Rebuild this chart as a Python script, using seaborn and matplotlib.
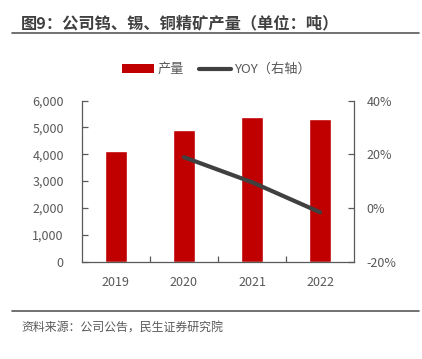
import pandas as pd
import matplotlib.pyplot as plt
import seaborn as sns
from matplotlib.lines import Line2D
from matplotlib.patches import Patch
from matplotlib.ticker import FuncFormatter, FixedLocator

years = ['2019', '2020', '2021', '2022']
output = [4137, 4919, 5393, 5306]
yoy_years = ['2020', '2021', '2022']
yoy = [18.9, 9.6, -1.6]

title = '图9：公司钨、锡、铜精矿产量（单位：吨）'
source = '资料来源：公司公告，民生证券研究院'

sns.set_theme(style='white')
plt.rcParams['font.family'] = ['Noto Sans CJK SC', 'DejaVu Sans']

txt = '#595959'
red = '#C00000'
grey = '#404040'

df = pd.DataFrame({'year': years, 'output': output})
df_yoy = pd.DataFrame({'x': [years.index(y) for y in yoy_years], 'yoy': yoy})

fig = plt.figure(figsize=(4.22, 3.59), dpi=100)
ax = fig.add_axes([0.194, 0.271, 0.645, 0.449])

sns.barplot(data=df, x='year', y='output', color=red, width=0.33,
            saturation=1, ax=ax)
ax.set_ylim(0, 6000)
ax.set_yticks(range(0, 6001, 1000))
ax.yaxis.set_major_formatter(FuncFormatter(lambda v, p: f'{int(v):,}'))
ax.set_xlim(-0.5, 3.5)
ax.set_xlabel('')
ax.set_ylabel('')

ax2 = ax.twinx()
sns.lineplot(data=df_yoy, x='x', y='yoy', color=grey, linewidth=3, ax=ax2)
ax2.set_ylim(-20, 40)
ax2.set_yticks([-20, 0, 20, 40])
ax2.yaxis.set_major_formatter(FuncFormatter(lambda v, p: f'{int(v)}%'))
ax2.set_xlim(-0.5, 3.5)
ax2.set_xlabel('')
ax2.set_ylabel('')

for a in (ax, ax2):
    for s in a.spines.values():
        s.set_visible(False)
    a.tick_params(colors=txt, labelsize=9)

ax.spines['left'].set_visible(True)
ax.spines['bottom'].set_visible(True)
ax2.spines['right'].set_visible(True)
for s in (ax.spines['left'], ax.spines['bottom'], ax2.spines['right']):
    s.set_color('#595959')
    s.set_linewidth(0.9)

ax.tick_params(axis='y', direction='in', length=4, width=0.9, color='#595959', pad=13)
ax2.tick_params(axis='y', direction='in', length=4, width=0.9, color='#595959', pad=9)
ax.tick_params(axis='x', length=0, pad=10)
ax.xaxis.set_minor_locator(FixedLocator([0.5, 1.5, 2.5]))
ax.tick_params(axis='x', which='minor', direction='in', length=4, width=0.9,
               color='#595959', bottom=True)

handles = [Patch(facecolor=red, edgecolor='none'),
           Line2D([0], [0], color=grey, linewidth=3)]
fig.legend(handles, ['产量', 'YOY（右轴）'], loc='center', bbox_to_anchor=(0.513, 0.806),
           ncol=2, frameon=False, fontsize=9.5, labelcolor=txt,
           handlelength=2.45, handleheight=0.7, columnspacing=1.1, handletextpad=0.25)

fig.text(0.05, 0.935, title, fontsize=11.7, fontweight='bold', color='#404040',
         va='center', ha='left')
fig.add_artist(Line2D([0.028, 0.993], [0.907, 0.907], color='#595959', linewidth=1.2))
fig.add_artist(Line2D([0.028, 0.993], [0.134, 0.134], color='#595959', linewidth=1.2))
fig.text(0.05, 0.088, source, fontsize=8.6, color=txt, va='center', ha='left')

fig.savefig('out.png', dpi=100)
